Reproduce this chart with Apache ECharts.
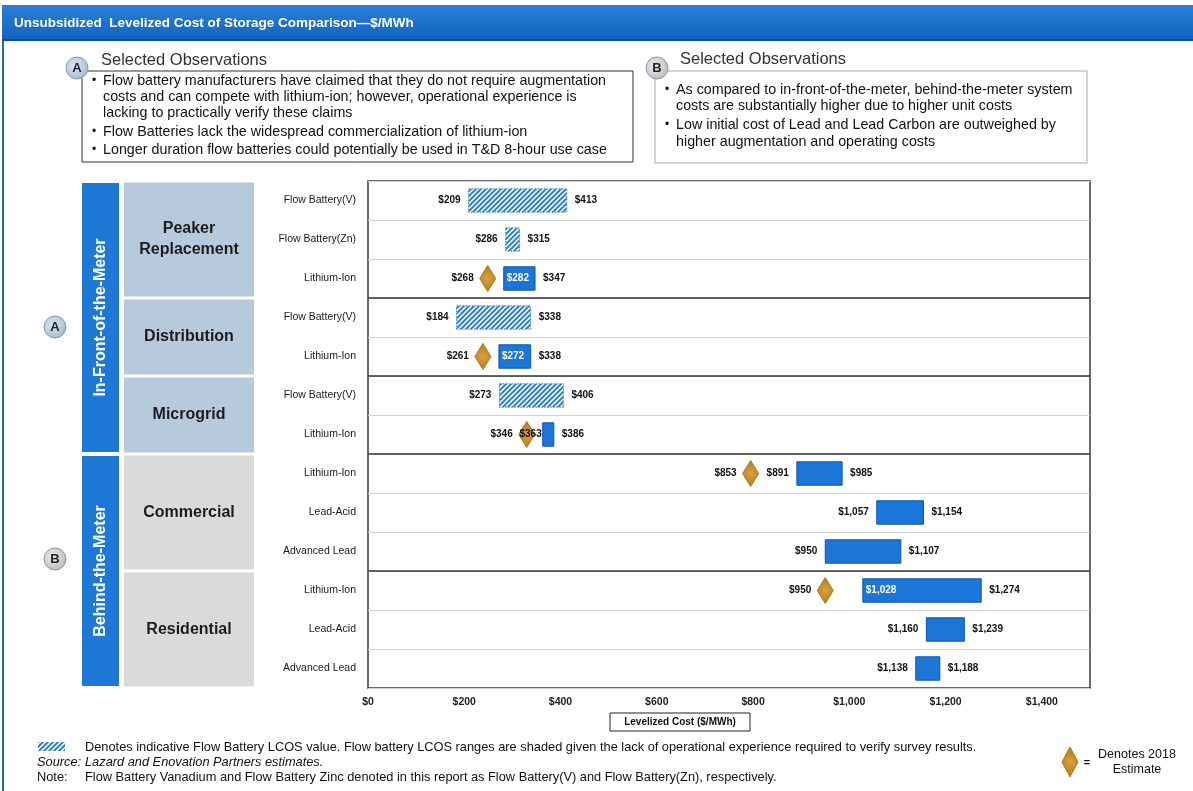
<!DOCTYPE html>
<html>
<head>
<meta charset="utf-8">
<script src="https://cdn.jsdelivr.net/npm/echarts@6/dist/echarts.min.js"></script>
<style>
html, body { margin: 0; padding: 0; background: #fff; }
#lcosChart { width: 1193px; height: 791px; }
</style>
</head>
<body>
<div id="lcosChart"></div>
<script>
// ---- data ----
const rowLabels = ['Flow Battery(V)', 'Flow Battery(Zn)', 'Lithium-Ion', 'Flow Battery(V)', 'Lithium-Ion',
  'Flow Battery(V)', 'Lithium-Ion', 'Lithium-Ion', 'Lead-Acid', 'Advanced Lead',
  'Lithium-Ion', 'Lead-Acid', 'Advanced Lead'];
const lowCost = [209, 286, 282, 184, 272, 273, 363, 891, 1057, 950, 1028, 1160, 1138];
const highCost = [413, 315, 347, 338, 338, 406, 386, 985, 1154, 1107, 1274, 1239, 1188];
const estimate2018 = [null, null, 268, null, 261, null, 346, 853, null, null, 950, null, null];
const useCaseNames = ['Peaker\nReplacement', 'Distribution', 'Microgrid', 'Commercial', 'Residential'];
const useCaseRowCount = [3, 2, 2, 3, 3];
const segmentNames = ['In-Front-of-the-Meter', 'Behind-the-Meter'];
const segmentUseCaseCount = [3, 2];
const costTicks = [0, 200, 400, 600, 800, 1000, 1200, 1400];

const observationsA = [
  ['Flow battery manufacturers have claimed that they do not require augmentation',
   'costs and can compete with lithium-ion; however, operational experience is',
   'lacking to practically verify these claims'],
  ['Flow Batteries lack the widespread commercialization of lithium-ion'],
  ['Longer duration flow batteries could potentially be used in T&D 8-hour use case']
];
const observationsB = [
  ['As compared to in-front-of-the-meter, behind-the-meter system',
   'costs are substantially higher due to higher unit costs'],
  ['Low initial cost of Lead and Lead Carbon are outweighed by',
   'higher augmentation and operating costs']
];

// ---- style ----
const FONT = '"Liberation Sans", Arial, sans-serif';
const LABEL_FONT = 'bold 10px ' + FONT;
const insideStartLabel = [2, 4, 10];   // 起始值写在柱内(白字)
const overlapStartLabel = [6];         // 起始值压在菱形上
const BLUE = '#1c76d8';

const measureCtx = document.createElement('canvas').getContext('2d');
function textWidth(str, font) {
  measureCtx.font = font;
  return measureCtx.measureText(str).width;
}
function money(v) {
  return '$' + v.toLocaleString('en-US');
}

// 斜线填充
const hatch = document.createElement('canvas');
hatch.width = 5;
hatch.height = 5;
(function () {
  const g = hatch.getContext('2d');
  g.fillStyle = '#e2eef7';
  g.fillRect(0, 0, 5, 5);
  g.strokeStyle = '#2a7ab7';
  g.lineWidth = 1.7;
  g.beginPath();
  g.moveTo(-1, 6); g.lineTo(6, -1);
  g.moveTo(-1, 1); g.lineTo(1, -1);
  g.moveTo(4, 6); g.lineTo(6, 4);
  g.stroke();
})();

function diamond(x, y, hw, hh) {
  return {
    type: 'polygon',
    shape: { points: [[x, y - hh], [x + hw, y], [x, y + hh], [x - hw, y]] },
    style: {
      fill: new echarts.graphic.RadialGradient(0.5, 0.5, 0.6, [
        { offset: 0, color: '#d6a04a' }, { offset: 1, color: '#c0841c' }
      ]),
      stroke: '#b0781c', lineWidth: 1
    }
  };
}

function renderRange(params, api) {
  const row = api.value(0);
  const lo = api.value(1);
  const hi = api.value(2);
  const est = api.value(3);
  const start = api.coord([lo, row]);
  const end = api.coord([hi, row]);
  const cy = start[1];
  const barH = api.size([0, 1])[1] * 0.6;
  const flow = rowLabels[row].indexOf('Flow') === 0;
  const items = [];
  items.push({
    type: 'rect',
    shape: { x: start[0], y: cy - barH / 2, width: end[0] - start[0], height: barH },
    style: flow
      ? { fill: { image: hatch, repeat: 'repeat' }, stroke: '#3b86c0', lineWidth: 1, lineDash: [1.5, 1.5] }
      : { fill: BLUE, stroke: '#0b55ad', lineWidth: 1 }
  });
  const loText = money(lo);
  let leftEdge = start[0];
  if (insideStartLabel.indexOf(row) >= 0) {
    items.push({ type: 'text', style: { text: loText, x: start[0] + 3, y: cy, align: 'left', verticalAlign: 'middle', font: LABEL_FONT, fill: '#fff' } });
  } else if (overlapStartLabel.indexOf(row) >= 0) {
    items.push({ type: 'text', z2: 5, style: { text: loText, x: start[0] - 1, y: cy, align: 'right', verticalAlign: 'middle', font: LABEL_FONT, fill: '#111' } });
  } else {
    items.push({ type: 'text', style: { text: loText, x: start[0] - 8, y: cy, align: 'right', verticalAlign: 'middle', font: LABEL_FONT, fill: '#111' } });
    leftEdge = start[0] - 8 - textWidth(loText, LABEL_FONT);
  }
  items.push({ type: 'text', style: { text: money(hi), x: end[0] + 8, y: cy, align: 'left', verticalAlign: 'middle', font: LABEL_FONT, fill: '#111' } });
  if (!isNaN(est)) {
    const ex = Math.min(api.coord([est, row])[0], leftEdge - 16);
    items.push(Object.assign(diamond(ex, cy, 8, 13), { z2: 2 }));
    items.push({ type: 'text', style: { text: money(est), x: ex - 14, y: cy, align: 'right', verticalAlign: 'middle', font: LABEL_FONT, fill: '#111' } });
  }
  return { type: 'group', children: items };
}

// 用例分组(左侧方块 + 分隔线)
const useCaseData = [];
let r0 = 0;
useCaseNames.forEach((name, i) => {
  useCaseData.push([0, r0, r0 + useCaseRowCount[i] - 1, i]);
  r0 += useCaseRowCount[i];
});
function renderUseCase(params, api) {
  const first = api.value(1);
  const last = api.value(2);
  const idx = api.value(3);
  const half = api.size([0, 1])[1] / 2;
  const top = api.coord([0, first])[1] - half;
  const bottom = api.coord([0, last])[1] + half;
  const left = api.coord([0, first])[0];
  const right = api.coord([1500, first])[0];
  const front = idx < segmentUseCaseCount[0];
  const items = [
    { type: 'rect', shape: { x: 124, y: top + 1.5, width: 130, height: bottom - top - 3 },
      style: { fill: front ? '#b7cadd' : '#dadada' } },
    { type: 'text', style: { text: useCaseNames[idx], x: 189, y: (top + bottom) / 2, align: 'center', verticalAlign: 'middle',
      font: 'bold 16px ' + FONT, fill: '#1c1c1c', lineHeight: 21 } }
  ];
  if (idx < useCaseNames.length - 1) {
    items.push({ type: 'line', z2: 10, shape: { x1: left, y1: bottom, x2: right, y2: bottom }, style: { stroke: '#333', lineWidth: 1.5 } });
  }
  return { type: 'group', children: items };
}

const segmentData = [];
let u0 = 0;
segmentNames.forEach((name, i) => {
  const firstRow = useCaseData[u0][1];
  const lastRow = useCaseData[u0 + segmentUseCaseCount[i] - 1][2];
  segmentData.push([0, firstRow, lastRow, i]);
  u0 += segmentUseCaseCount[i];
});
function renderSegment(params, api) {
  const half = api.size([0, 1])[1] / 2;
  const top = api.coord([0, api.value(1)])[1] - half + 2;
  const bottom = api.coord([0, api.value(2)])[1] + half - 2;
  return {
    type: 'group',
    children: [
      { type: 'rect', shape: { x: 82, y: top, width: 37, height: bottom - top }, style: { fill: '#1d78d6' } },
      { type: 'text', x: 101, y: (top + bottom) / 2, rotation: Math.PI / 2,
        style: { text: segmentNames[api.value(3)], align: 'center', verticalAlign: 'middle', font: 'bold 16px ' + FONT, fill: '#fff' } }
    ]
  };
}

// ---- 图形元素(标题、说明框、脚注) ----
function markCircle(x, y, letter, c0, c1) {
  return [
    { type: 'circle', shape: { cx: x, cy: y, r: 11 },
      style: { fill: new echarts.graphic.RadialGradient(0.4, 0.4, 0.7, [{ offset: 0, color: c0 }, { offset: 1, color: c1 }]), stroke: '#8a9aaa', lineWidth: 1 }, z: 20 },
    { type: 'text', style: { text: letter, x: x, y: y, align: 'center', verticalAlign: 'middle', font: 'bold 13px ' + FONT, fill: '#222' }, z: 21 }
  ];
}
function bulletBlock(list, x, ys) {
  const out = [];
  let k = 0;
  list.forEach(lines => {
    lines.forEach((line, j) => {
      if (j === 0) out.push({ type: 'text', style: { text: '•', x: x, y: ys[k], verticalAlign: 'middle', font: '12px ' + FONT, fill: '#111' } });
      out.push({ type: 'text', style: { text: line, x: x + 11, y: ys[k], verticalAlign: 'middle', font: '14.3px ' + FONT, fill: '#111' } });
      k++;
    });
  });
  return out;
}

const FOOT = '12.8px ' + FONT;
const graphics = [
  { type: 'rect', shape: { x: 2, y: 5, width: 2, height: 786 }, style: { fill: '#2266c0' } },
  { type: 'rect', shape: { x: 2, y: 5, width: 1191, height: 36 },
    style: { fill: new echarts.graphic.LinearGradient(0, 0, 0, 1, [{ offset: 0, color: '#2a80d6' }, { offset: 1, color: '#1262bb' }]) } },
  { type: 'rect', shape: { x: 2, y: 39, width: 1191, height: 2 }, style: { fill: '#0b4f9c' } },
  { type: 'text', style: { text: 'Unsubsidized  Levelized Cost of Storage Comparison\u2014$/MWh', x: 14, y: 23, verticalAlign: 'middle', font: 'bold 13.5px ' + FONT, fill: '#fff' } },
  // box A
  { type: 'rect', shape: { x: 82, y: 71, width: 551, height: 91 }, style: { fill: '#fff', stroke: '#333', lineWidth: 1 } },
  { type: 'text', style: { text: 'Selected Observations', x: 101, y: 60, verticalAlign: 'middle', font: '16.5px ' + FONT, fill: '#333' } },
  // box B
  { type: 'rect', shape: { x: 655, y: 71, width: 432, height: 92 }, style: { fill: '#fff', stroke: '#aaa', lineWidth: 1 } },
  { type: 'text', style: { text: 'Selected Observations', x: 680, y: 59, verticalAlign: 'middle', font: '16.5px ' + FONT, fill: '#333' } },
  // x 轴标题框
  { type: 'rect', shape: { x: 610, y: 713, width: 140, height: 18 }, style: { fill: '#fff', stroke: '#222', lineWidth: 1 } },
  { type: 'text', style: { text: 'Levelized Cost ($/MWh)', x: 680, y: 722, align: 'center', verticalAlign: 'middle', font: 'bold 10px ' + FONT, fill: '#111' } },
  // 脚注
  { type: 'rect', shape: { x: 38, y: 742, width: 27, height: 9 }, style: { fill: { image: hatch, repeat: 'repeat' } } },
  { type: 'text', style: { text: 'Denotes indicative Flow Battery LCOS value. Flow battery LCOS ranges are shaded given the lack of operational experience required to verify survey results.', x: 85, y: 747, verticalAlign: 'middle', font: FOOT, fill: '#111' } },
  { type: 'text', style: { text: 'Source:', x: 37, y: 762, verticalAlign: 'middle', font: 'italic ' + FOOT, fill: '#111' } },
  { type: 'text', style: { text: 'Lazard and Enovation Partners estimates.', x: 85, y: 762, verticalAlign: 'middle', font: 'italic ' + FOOT, fill: '#111' } },
  { type: 'text', style: { text: 'Note:', x: 37, y: 777, verticalAlign: 'middle', font: FOOT, fill: '#111' } },
  { type: 'text', style: { text: 'Flow Battery Vanadium and Flow Battery Zinc denoted in this report as Flow Battery(V) and Flow Battery(Zn), respectively.', x: 85, y: 777, verticalAlign: 'middle', font: FOOT, fill: '#111' } },
  // 图例:菱形
  diamond(1070, 762, 8, 15),
  { type: 'text', style: { text: '=', x: 1087, y: 763, align: 'center', verticalAlign: 'middle', font: 'bold 11px ' + FONT, fill: '#111' } },
  { type: 'text', style: { text: 'Denotes 2018\nEstimate', x: 1137, y: 762, align: 'center', verticalAlign: 'middle', font: '12.5px ' + FONT, fill: '#111', lineHeight: 15 } }
]
  .concat(markCircle(77, 68, 'A', '#dfe8f1', '#9db4ca'))
  .concat(markCircle(657, 68, 'B', '#eeeeee', '#b5b5b5'))
  .concat(markCircle(55, 327, 'A', '#dfe8f1', '#9db4ca'))
  .concat(markCircle(55, 559, 'B', '#eeeeee', '#b5b5b5'))
  .concat(bulletBlock(observationsA, 92, [81, 97, 113, 132, 150]))
  .concat(bulletBlock(observationsB, 665, [90, 106, 125, 142]));

const myChart = echarts.init(document.getElementById('lcosChart'));
const option = {
  animation: false,
  backgroundColor: '#fff',
  textStyle: { fontFamily: FONT },
  grid: {
    left: 368, right: 103, top: 181, height: 507,
    containLabel: false, outerBoundsMode: 'none',
    show: true, borderColor: '#3a3a3a', borderWidth: 1.5, backgroundColor: '#fff'
  },
  xAxis: {
    type: 'value', min: costTicks[0], max: 1500, interval: costTicks[1] - costTicks[0],
    axisLine: { show: false }, axisTick: { show: false }, splitLine: { show: false },
    axisLabel: {
      margin: 9, fontSize: 10.5, fontWeight: 'bold', color: '#222',
      formatter: v => (costTicks.indexOf(v) >= 0 ? money(v) : '')
    }
  },
  yAxis: {
    type: 'category', inverse: true, data: rowLabels,
    axisLine: { show: false }, axisTick: { show: false },
    axisLabel: { margin: 12, fontSize: 10.5, color: '#1a1a1a' },
    splitLine: { show: true, lineStyle: { color: '#d2d2d2', width: 1 } }
  },
  graphic: graphics,
  series: [
    { type: 'custom', name: 'segment', renderItem: renderSegment, data: segmentData, encode: { x: 0, y: [1, 2] }, clip: false, silent: true },
    { type: 'custom', name: 'useCase', renderItem: renderUseCase, data: useCaseData, encode: { x: 0, y: [1, 2] }, clip: false, silent: true, z: 3 },
    {
      type: 'custom', name: 'LCOS', renderItem: renderRange, clip: false, z: 4,
      data: rowLabels.map((_, i) => [i, lowCost[i], highCost[i], estimate2018[i] == null ? NaN : estimate2018[i]]),
      encode: { y: 0, x: [1, 2] }
    }
  ]
};
myChart.setOption(option);
</script>
</body>
</html>
